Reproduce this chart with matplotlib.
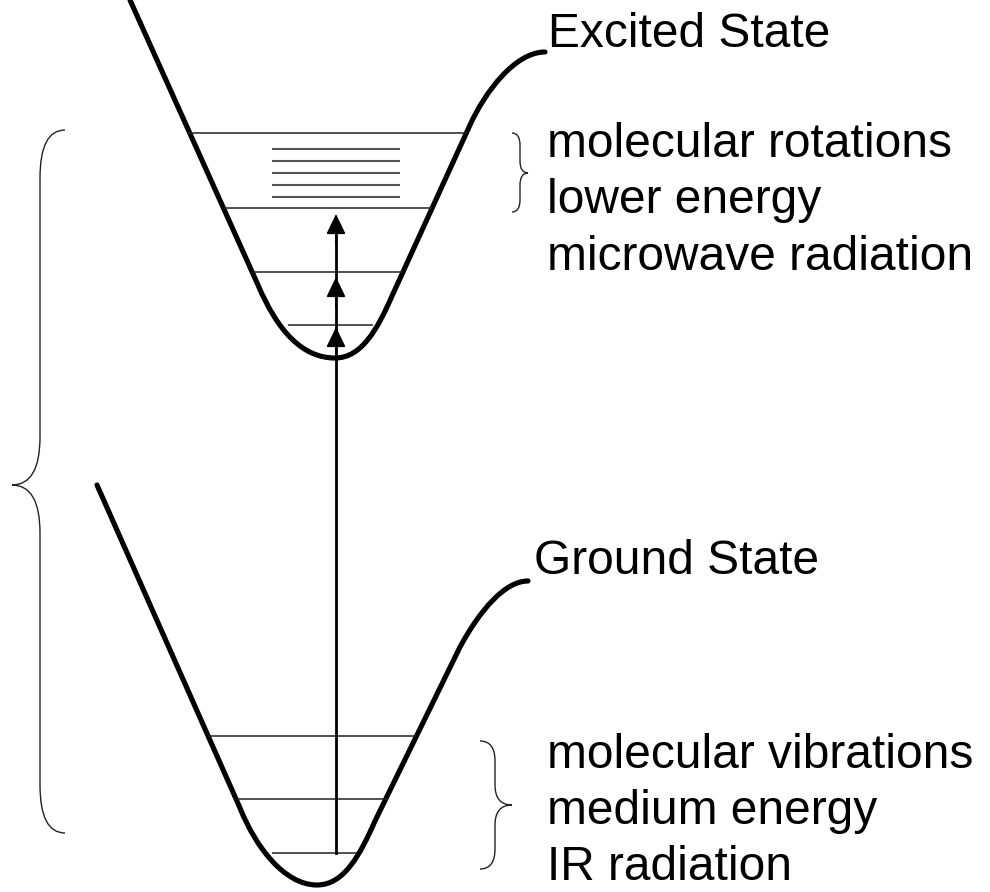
"""
    Energy level diagram: ground / excited state potential wells,
    vibrational and rotational levels, electronic transition arrow.
"""

import matplotlib
matplotlib.use("Agg")
import matplotlib.pyplot as plt
from matplotlib.path import Path
from matplotlib.patches import PathPatch

# Config
W, H = 990, 892
DPI = 100
FONT = ["Liberation Sans", "DejaVu Sans"]
FS = 34.5

M, L, C = Path.MOVETO, Path.LINETO, Path.CURVE4

# Potential wells (pixel coords, y down)
exc_well_pts = [(130, 0), (258, 285), (278, 332), (303, 358), (335, 358),
                (362, 358), (378, 328), (392, 296), (470, 125),
                (485, 92), (515, 52), (545, 52)]
exc_well_codes = [M, L, C, C, C, C, C, C, L, C, C, C]

gnd_well_pts = [(97, 485), (240, 808), (256, 848), (285, 885), (317, 885),
                (344, 885), (360, 855), (375, 821), (460, 647),
                (480, 610), (505, 581), (528, 581)]
gnd_well_codes = [M, L, C, C, C, C, C, C, L, C, C, C]

# Vibrational levels
exc_level_y = [133, 208, 272, 325]
exc_level_x0 = [187, 224, 252, 288]
exc_level_x1 = [467, 432, 403, 373]

gnd_level_y = [736, 799, 853]
gnd_level_x0 = [208, 237, 272]
gnd_level_x1 = [416, 388, 357]

# Rotational levels
rot_level_y = [149, 161, 173, 185, 197]
rot_x0, rot_x1 = 272, 400

# Transition arrow
arrow_x = 336
arrow_bottom = 853
arrow_tips = [214, 277, 327]

# Braces: (end x, spine x, tip x, top y, bottom y, tip y, radius)
braces = [
    (65, 40, 12, 130, 833, 485, 48),
    (512, 520, 528, 133, 212, 173, 12),
    (480, 495, 512, 741, 869, 805, 20),
]

# Labels
state_labels = ["Excited State", "Ground State"]
state_xy = [(548, 47), (534, 574)]
upper_lines = ["molecular rotations", "lower energy", "microwave radiation"]
upper_y = [157, 213, 270]
lower_lines = ["molecular vibrations", "medium energy", "IR radiation"]
lower_y = [768, 824, 880]
text_x = 547


def brace_path(xs, xm, xt, y0, y1, ym, r):
    Q = Path.CURVE3
    verts = [(xs, y0), (xm, y0), (xm, y0 + r), (xm, ym - r),
             (xm, ym), (xt, ym), (xm, ym), (xm, ym + r),
             (xm, y1 - r), (xm, y1), (xs, y1)]
    codes = [M, Q, Q, L, Q, Q, Q, Q, L, Q, Q]
    return Path(verts, codes)


def main():
    fig = plt.figure(figsize=(W / DPI, H / DPI), dpi=DPI)
    ax = fig.add_axes([0, 0, 1, 1])
    ax.set_xlim(0, W)
    ax.set_ylim(H, 0)
    ax.axis("off")

    # wells
    for pts, codes in ((exc_well_pts, exc_well_codes), (gnd_well_pts, gnd_well_codes)):
        ax.add_patch(PathPatch(Path(pts, codes), fill=False, lw=3.7,
                               ec="black", capstyle="round", joinstyle="round"))

    # levels
    ax.hlines(exc_level_y, exc_level_x0, exc_level_x1, colors="#222222", lw=1.1)
    ax.hlines(gnd_level_y, gnd_level_x0, gnd_level_x1, colors="#222222", lw=1.1)
    ax.hlines(rot_level_y, rot_x0, rot_x1, colors="#555555", lw=1.5)

    # transition arrow
    ax.plot([arrow_x, arrow_x], [arrow_bottom, min(arrow_tips) + 10], color="black", lw=2.0)
    for tip in arrow_tips:
        ax.annotate("", xy=(arrow_x, tip), xytext=(arrow_x, tip + 30),
                    arrowprops=dict(arrowstyle="-|>,head_length=1.25,head_width=0.6",
                                    mutation_scale=10, lw=1.2, color="black",
                                    shrinkA=0, shrinkB=0))

    # braces
    for b in braces:
        ax.add_patch(PathPatch(brace_path(*b), fill=False, lw=1.0, ec="#222222"))

    # text
    for label, (x, y) in zip(state_labels, state_xy):
        ax.text(x, y, label, fontsize=FS, family=FONT, va="baseline", ha="left")
    for label, y in zip(upper_lines, upper_y):
        ax.text(text_x, y, label, fontsize=FS, family=FONT, va="baseline", ha="left")
    for label, y in zip(lower_lines, lower_y):
        ax.text(text_x, y, label, fontsize=FS, family=FONT, va="baseline", ha="left")

    fig.savefig("out.png", dpi=DPI, facecolor="white")


if __name__ == "__main__":
    main()
